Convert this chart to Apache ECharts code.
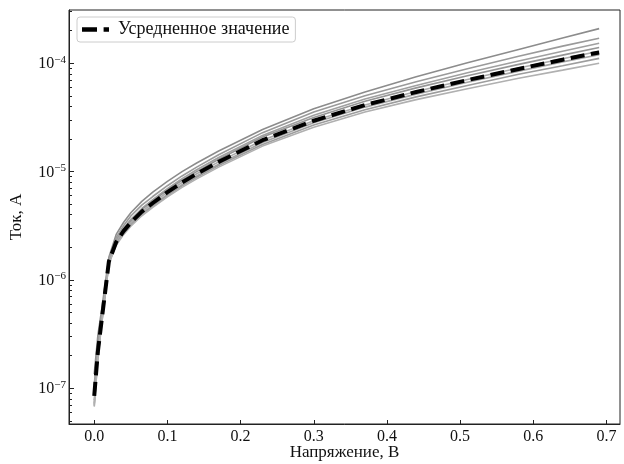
<!DOCTYPE html>
<html>
<head>
<meta charset="utf-8">
<script src="https://cdn.jsdelivr.net/npm/echarts@6/dist/echarts.min.js"></script>
<style>
html,body{margin:0;padding:0;background:#fff;}
#chart{width:624px;height:464px;}
</style>
</head>
<body>
<div id="chart"></div>
<script>
// ---- data (voltage in V, current in A) ----
const voltage = [0, 0.005, 0.01, 0.02, 0.03, 0.04, 0.05, 0.065, 0.08, 0.1, 0.12, 0.14, 0.17, 0.23, 0.3, 0.37, 0.44, 0.51, 0.58, 0.64, 0.69];
const averageCurrent = [8.51e-8, 2.19e-7, 4.17e-7, 1.48e-6, 2.24e-6, 2.82e-6, 3.39e-6, 4.27e-6, 5.13e-6, 6.46e-6, 7.94e-6, 9.55e-6, 1.23e-5, 1.95e-5, 2.95e-5, 4.12e-5, 5.43e-5, 7.00e-5, 8.87e-5, 1.08e-4, 1.26e-4];
const curve1 = [1.35e-7, 3.09e-7, 5.25e-7, 1.62e-6, 2.63e-6, 3.39e-6, 4.17e-6, 5.31e-6, 6.46e-6, 8.13e-6, 1.00e-5, 1.20e-5, 1.55e-5, 2.45e-5, 3.80e-5, 5.43e-5, 7.50e-5, 1.01e-4, 1.34e-4, 1.71e-4, 2.09e-4];
const curve2 = [1.07e-7, 2.57e-7, 4.68e-7, 1.55e-6, 2.45e-6, 3.16e-6, 3.89e-6, 4.90e-6, 5.89e-6, 7.41e-6, 9.12e-6, 1.10e-5, 1.43e-5, 2.29e-5, 3.55e-5, 5.01e-5, 6.76e-5, 8.91e-5, 1.16e-4, 1.44e-4, 1.70e-4];
const curve3 = [9.55e-8, 2.34e-7, 4.37e-7, 1.48e-6, 2.34e-6, 2.99e-6, 3.63e-6, 4.57e-6, 5.50e-6, 6.95e-6, 8.61e-6, 1.04e-5, 1.35e-5, 2.16e-5, 3.31e-5, 4.68e-5, 6.24e-5, 8.17e-5, 1.05e-4, 1.29e-4, 1.53e-4];
const curve4 = [8.51e-8, 2.19e-7, 4.17e-7, 1.48e-6, 2.29e-6, 2.90e-6, 3.51e-6, 4.45e-6, 5.37e-6, 6.76e-6, 8.32e-6, 1.00e-5, 1.30e-5, 2.09e-5, 3.16e-5, 4.47e-5, 5.93e-5, 7.67e-5, 9.77e-5, 1.19e-4, 1.40e-4];
const curve5 = [7.76e-8, 2.09e-7, 4.07e-7, 1.48e-6, 2.24e-6, 2.82e-6, 3.39e-6, 4.27e-6, 5.13e-6, 6.46e-6, 7.94e-6, 9.55e-6, 1.23e-5, 1.95e-5, 2.95e-5, 4.12e-5, 5.50e-5, 7.08e-5, 9.04e-5, 1.10e-4, 1.29e-4];
const curve6 = [7.24e-8, 2.00e-7, 3.98e-7, 1.45e-6, 2.19e-6, 2.74e-6, 3.27e-6, 4.09e-6, 4.90e-6, 6.17e-6, 7.59e-6, 9.12e-6, 1.17e-5, 1.86e-5, 2.82e-5, 3.94e-5, 5.19e-5, 6.68e-5, 8.47e-5, 1.03e-4, 1.20e-4];
const curve7 = [6.92e-8, 1.95e-7, 3.89e-7, 1.41e-6, 2.14e-6, 2.68e-6, 3.20e-6, 4.00e-6, 4.79e-6, 6.03e-6, 7.41e-6, 8.87e-6, 1.14e-5, 1.78e-5, 2.69e-5, 3.72e-5, 4.90e-5, 6.24e-5, 7.91e-5, 9.48e-5, 1.11e-4];
const curve8 = [6.76e-8, 1.91e-7, 3.80e-7, 1.41e-6, 2.09e-6, 2.62e-6, 3.13e-6, 3.91e-6, 4.68e-6, 5.86e-6, 7.16e-6, 8.57e-6, 1.10e-5, 1.72e-5, 2.57e-5, 3.55e-5, 4.62e-5, 5.82e-5, 7.29e-5, 8.65e-5, 1.00e-4];
const measuredCurves = [curve1, curve2, curve3, curve4, curve5, curve6, curve7, curve8];

const xTickLabels = [0.0, 0.1, 0.2, 0.3, 0.4, 0.5, 0.6, 0.7];
const yDecades = [1e-7, 1e-6, 1e-5, 1e-4];
const legendLabel = 'Усредненное значение';
const xTitle = 'Напряжение, В';
const yTitle = 'Ток, А';

// ---- styling ----
const serif = 'Liberation Serif';
const grayColors = ['#8c8c8c', '#9a9a9a', '#a0a0a0', '#959595', '#aaaaaa', '#a5a5a5', '#9d9d9d', '#b0b0b0'];

const yMin = -7.33, yMax = -3.508;
const majorY = yDecades.map(v => Math.log10(v));
const minorY = [];
for (let e = -8; e <= -4; e++) {
  for (let k = 2; k <= 9; k++) {
    const p = e + Math.log10(k);
    if (p > yMin && p < yMax) minorY.push(p);
  }
}

const toPairs = arr => voltage.map((v, i) => [v, Math.log10(arr[i])]);

const series = measuredCurves.map((c, i) => ({
  type: 'line',
  name: 'curve' + (i + 1),
  data: toPairs(c),
  showSymbol: false,
  symbol: 'none',
  lineStyle: { color: grayColors[i], width: 1.6 },
  itemStyle: { color: grayColors[i] },
  silent: true,
  z: 2
}));
series.push({
  type: 'line',
  name: legendLabel,
  data: toPairs(averageCurrent),
  showSymbol: false,
  symbol: 'none',
  lineStyle: { color: '#000', width: 4, type: [14, 6.5], cap: 'butt' },
  itemStyle: { color: '#000' },
  z: 5
});

const chart = echarts.init(document.getElementById('chart'), null, { renderer: 'canvas' });
chart.setOption({
  animation: false,
  backgroundColor: '#fff',
  grid: {
    left: 69, right: 4, top: 10, bottom: 40,
    show: true, borderColor: '#222', borderWidth: 1,
    containLabel: false, outerBoundsMode: 'none'
  },
  legend: {
    data: [{
      name: legendLabel,
      icon: 'path://M0 0L15 0L15 4.5L0 4.5Z M21.6 0L27 0L27 4.5L21.6 4.5Z'
    }],
    left: 77, top: 17,
    orient: 'horizontal',
    padding: [3, 6, 3, 5],
    itemWidth: 27, itemHeight: 4.5,
    backgroundColor: '#fff',
    borderColor: '#cccccc', borderWidth: 1, borderRadius: 3,
    textStyle: { fontFamily: serif, fontSize: 18, color: '#111', padding: [0, 0, 0, 4], lineHeight: 19 }
  },
  xAxis: {
    type: 'value',
    min: -0.0345, max: 0.7185,
    name: xTitle,
    nameLocation: 'middle',
    nameGap: 20,
    nameMoveOverlap: false,
    nameTextStyle: { fontFamily: serif, fontSize: 17, color: '#111' },
    axisLine: { show: true, onZero: false, lineStyle: { color: '#222', width: 1 } },
    axisTick: { show: true, inside: true, length: 4, customValues: xTickLabels, lineStyle: { color: '#222' } },
    axisLabel: {
      customValues: xTickLabels,
      formatter: v => v.toFixed(1),
      fontFamily: serif, fontSize: 16, color: '#111', margin: 5
    },
    splitLine: { show: false }
  },
  yAxis: [{
    type: 'value',
    min: yMin, max: yMax,
    name: yTitle,
    nameLocation: 'middle',
    nameGap: 44,
    nameRotate: 90,
    nameMoveOverlap: false,
    nameTextStyle: { fontFamily: serif, fontSize: 17, color: '#111' },
    axisLine: { show: true, onZero: false, lineStyle: { color: '#222', width: 1 } },
    axisTick: { show: true, inside: true, length: 5, customValues: majorY, lineStyle: { color: '#222' } },
    axisLabel: {
      customValues: majorY,
      margin: 3,
      formatter: v => '{b|10}{s|\u2212' + Math.abs(Math.round(v)) + '}',
      rich: {
        b: { fontFamily: serif, fontSize: 16, color: '#111', lineHeight: 18, verticalAlign: 'bottom' },
        s: { fontFamily: serif, fontSize: 11, color: '#111', lineHeight: 12, verticalAlign: 'top' }
      }
    },
    splitLine: { show: false }
  }, {
    type: 'value',
    min: yMin, max: yMax,
    position: 'left',
    axisLine: { show: false, onZero: false },
    axisTick: { show: true, inside: true, length: 3, customValues: minorY, lineStyle: { color: '#222' } },
    axisLabel: { show: false },
    splitLine: { show: false }
  }],
  series: series
});
</script>
</body>
</html>
